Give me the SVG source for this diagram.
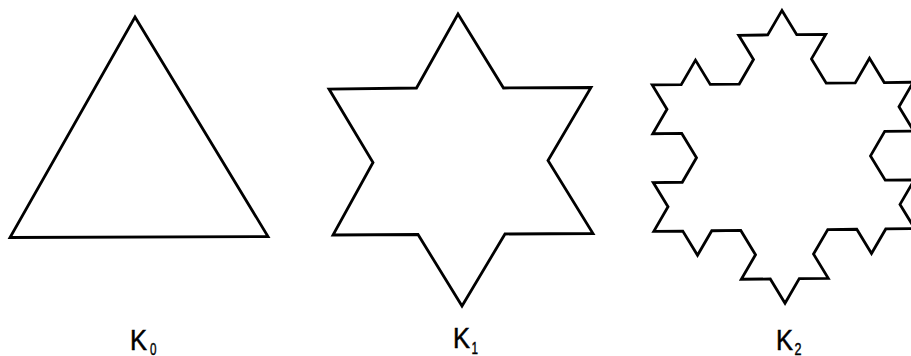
<svg xmlns="http://www.w3.org/2000/svg" width="911" height="356" viewBox="0 0 911 356">
<style>
.shape{fill:none;stroke:#000;stroke-width:2.8;stroke-linejoin:miter;stroke-miterlimit:10}
.lbl{font-family:"Liberation Sans",Arial,sans-serif;font-size:29px;fill:#000;stroke:#000;stroke-width:0.5}
.sub{font-family:"Liberation Sans",Arial,sans-serif;font-size:16px;fill:#000;stroke:#000;stroke-width:0.4}
</style>
<rect width="911" height="356" fill="#fff"/>
<g id="k0">
<polygon class="shape" points="135,17 268,236.5 10,237.5"/>
<text class="lbl" x="130" y="349.5" textLength="17" lengthAdjust="spacingAndGlyphs">K</text>
<text class="sub" x="150" y="354.5" textLength="6.5" lengthAdjust="spacingAndGlyphs">0</text>
</g>
<g id="k1">
<polygon class="shape" points="458,14 503.5,88 591,87.5 548,160.5 593,233.5 505,234 462,306 418,234.5 333,235 373,162.5 329,89 416.5,88"/>
<text class="lbl" x="453" y="348" textLength="17" lengthAdjust="spacingAndGlyphs">K</text>
<text class="sub" x="471.5" y="354" textLength="6.5" lengthAdjust="spacingAndGlyphs">1</text>
</g>
<g id="k2">
<polygon class="shape" transform="rotate(-0.6 783.5 156.8)" points="653,230 667.5,205.6 653,181.2 682,181.2 696.5,156.8 682,132.4 653,132.4 667.5,108 653,83.6 682,83.6 696.5,59.2 711,83.6 740,83.6 754.5,59.2 740,34.8 769,34.8 783.5,10.4 798,34.8 827,34.8 812.5,59.2 827,83.6 856,83.6 870.5,59.2 885,83.6 914,83.6 899.5,108 914,132.4 885,132.4 870.5,156.8 885,181.2 914,181.2 899.5,205.6 914,230 885,230 870.5,254.4 856,230 827,230 812.5,254.4 827,278.8 798,278.8 783.5,303.2 769,278.8 740,278.8 754.5,254.4 740,230 711,230 696.5,254.4 682,230"/>
<text class="lbl" x="776" y="350" textLength="17" lengthAdjust="spacingAndGlyphs">K</text>
<text class="sub" x="794.5" y="354.5" textLength="7" lengthAdjust="spacingAndGlyphs">2</text>
</g>
</svg>
